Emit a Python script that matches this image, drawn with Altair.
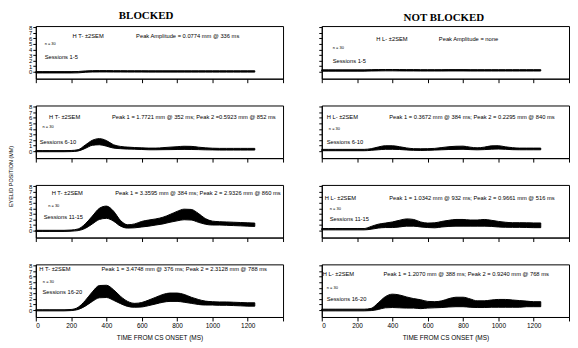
import altair as alt
import pandas as pd

# ---- data ----
T = [0, 40, 80, 120, 160, 200, 240, 280, 320, 360, 400, 440, 480, 520, 560, 600,
     640, 680, 720, 760, 800, 840, 880, 920, 960, 1000, 1040, 1080, 1120, 1160, 1200, 1240]

# BLOCKED (H T-)
B1_MEAN = [-0.10, -0.10, -0.10, -0.10, -0.10, -0.10, -0.08, 0.02, 0.07, 0.08, 0.08, 0.07, 0.07, 0.06, 0.06, 0.06,
           0.05, 0.05, 0.05, 0.05, 0.05, 0.05, 0.05, 0.05, 0.05, 0.05, 0.05, 0.05, 0.05, 0.05, 0.05, 0.05]
B1_HALF = [0.12, 0.12, 0.12, 0.12, 0.12, 0.12, 0.12, 0.12, 0.12, 0.12, 0.12, 0.12, 0.12, 0.12, 0.12, 0.12,
           0.12, 0.12, 0.12, 0.12, 0.12, 0.12, 0.12, 0.12, 0.12, 0.12, 0.12, 0.12, 0.12, 0.12, 0.12, 0.12]
B2_MEAN = [0.0, 0.0, 0.0, 0.0, 0.0, 0.02, 0.15, 0.8, 1.5, 1.7, 1.4, 0.85, 0.65, 0.55, 0.5, 0.45,
           0.4, 0.4, 0.45, 0.5, 0.55, 0.6, 0.58, 0.5, 0.42, 0.38, 0.35, 0.35, 0.35, 0.35, 0.35, 0.35]
B2_HALF = [0.1, 0.1, 0.1, 0.1, 0.1, 0.1, 0.12, 0.3, 0.45, 0.55, 0.5, 0.3, 0.2, 0.18, 0.15, 0.15,
           0.15, 0.15, 0.18, 0.22, 0.25, 0.28, 0.28, 0.22, 0.18, 0.15, 0.15, 0.15, 0.15, 0.15, 0.15, 0.15]
B3_MEAN = [-0.05, -0.05, -0.05, -0.05, -0.05, 0.0, 0.15, 0.8, 1.9, 3.0, 3.3, 2.6, 1.3, 0.75, 0.85, 1.15,
           1.35, 1.55, 1.8, 2.2, 2.6, 2.9, 2.85, 2.3, 1.65, 1.35, 1.3, 1.25, 1.2, 1.15, 1.1, 1.05]
B3_HALF = [0.1, 0.1, 0.1, 0.1, 0.1, 0.1, 0.15, 0.4, 0.7, 1.0, 1.1, 0.9, 0.5, 0.3, 0.35, 0.5,
           0.55, 0.55, 0.6, 0.7, 0.85, 0.95, 0.95, 0.8, 0.5, 0.35, 0.3, 0.3, 0.3, 0.3, 0.3, 0.3]
B4_MEAN = [-0.05, -0.05, -0.05, -0.05, -0.05, 0.0, 0.3, 1.2, 2.4, 3.3, 3.35, 2.7, 1.8, 1.1, 0.85, 0.95,
           1.3, 1.7, 2.1, 2.3, 2.3, 2.1, 1.75, 1.45, 1.25, 1.2, 1.15, 1.15, 1.1, 1.05, 1.0, 1.0]
B4_HALF = [0.1, 0.1, 0.1, 0.1, 0.1, 0.1, 0.2, 0.5, 0.85, 1.1, 1.1, 0.95, 0.65, 0.45, 0.35, 0.4,
           0.5, 0.6, 0.7, 0.75, 0.75, 0.7, 0.55, 0.45, 0.35, 0.3, 0.3, 0.3, 0.3, 0.3, 0.3, 0.3]

# NOT BLOCKED (H L-)
R1_MEAN = [0.22, 0.22, 0.22, 0.22, 0.22, 0.22, 0.22, 0.25, 0.27, 0.28, 0.28, 0.27, 0.26, 0.26, 0.25, 0.25,
           0.25, 0.25, 0.26, 0.26, 0.26, 0.25, 0.25, 0.25, 0.25, 0.25, 0.25, 0.25, 0.25, 0.25, 0.25, 0.25]
R1_HALF = [0.12, 0.12, 0.12, 0.12, 0.12, 0.12, 0.12, 0.12, 0.12, 0.12, 0.12, 0.12, 0.12, 0.12, 0.12, 0.12,
           0.12, 0.12, 0.12, 0.12, 0.12, 0.12, 0.12, 0.12, 0.12, 0.12, 0.12, 0.12, 0.12, 0.12, 0.12, 0.12]
R2_MEAN = [0.2, 0.2, 0.2, 0.2, 0.2, 0.2, 0.2, 0.3, 0.5, 0.65, 0.65, 0.55, 0.4, 0.3, 0.28, 0.3,
           0.35, 0.45, 0.55, 0.6, 0.62, 0.5, 0.42, 0.5, 0.65, 0.68, 0.55, 0.45, 0.4, 0.4, 0.4, 0.4]
R2_HALF = [0.12, 0.12, 0.12, 0.12, 0.12, 0.12, 0.12, 0.15, 0.25, 0.32, 0.32, 0.25, 0.18, 0.15, 0.15, 0.15,
           0.15, 0.2, 0.25, 0.28, 0.28, 0.22, 0.18, 0.22, 0.3, 0.3, 0.22, 0.18, 0.15, 0.15, 0.15, 0.15]
R3_MEAN = [0.25, 0.25, 0.25, 0.25, 0.25, 0.25, 0.25, 0.5, 0.8, 0.95, 1.05, 1.25, 1.45, 1.4, 1.1, 0.95,
           0.95, 1.15, 1.3, 1.4, 1.4, 1.35, 1.35, 1.4, 1.3, 1.15, 1.05, 1.0, 1.0, 0.98, 0.95, 0.95]
R3_HALF = [0.12, 0.12, 0.12, 0.12, 0.12, 0.12, 0.12, 0.25, 0.35, 0.4, 0.5, 0.6, 0.65, 0.6, 0.45, 0.4,
           0.45, 0.5, 0.55, 0.6, 0.6, 0.55, 0.55, 0.6, 0.55, 0.5, 0.45, 0.42, 0.42, 0.42, 0.42, 0.42]
R4_MEAN = [0.0, 0.0, 0.0, 0.0, 0.0, 0.0, 0.0, 0.1, 0.7, 1.4, 1.65, 1.55, 1.35, 1.2, 1.05, 0.95,
           0.95, 1.05, 1.3, 1.45, 1.45, 1.25, 1.05, 1.05, 1.15, 1.2, 1.2, 1.15, 1.1, 1.1, 1.05, 1.05]
R4_HALF = [0.15, 0.15, 0.15, 0.15, 0.15, 0.15, 0.15, 0.2, 0.6, 1.0, 1.2, 1.15, 1.0, 0.85, 0.8, 0.6,
           0.55, 0.6, 0.75, 0.85, 0.85, 0.75, 0.6, 0.6, 0.65, 0.7, 0.7, 0.65, 0.6, 0.5, 0.45, 0.45]

COL_TITLES = ["BLOCKED", "NOT BLOCKED"]
GROUP_LABELS = ["H T-  \u00b12SEM", "H L-  \u00b12SEM"]
SESSIONS = ["Sessions 1-5", "Sessions 6-10", "Sessions 11-15", "Sessions 16-20"]
N_LABEL = "n = 30"
PEAK_B = [
    "Peak Amplitude = 0.0774 mm @ 336 ms",
    "Peak 1 = 1.7721 mm @ 352 ms;  Peak 2 =0.5923 mm @ 852 ms",
    "Peak 1 = 3.3595 mm @ 384 ms;  Peak 2 = 2.9326 mm @ 860 ms",
    "Peak 1 = 3.4748 mm @ 376 ms;  Peak 2 = 2.3128 mm @ 788 ms",
]
PEAK_R = [
    "Peak Amplitude = none",
    "Peak 1 = 0.3672 mm @ 384 ms;  Peak 2 = 0.2295 mm @ 840 ms",
    "Peak 1 = 1.0342 mm @ 932 ms;  Peak 2 = 0.9661 mm @ 516 ms",
    "Peak 1 = 1.2070 mm @ 388 ms;  Peak 2 = 0.9240 mm @ 768 ms",
]
X_TICKS = [0, 200, 400, 600, 800, 1000, 1200, 1400]
Y_TICKS = [0, 1, 2, 3, 4, 5, 6, 7, 8]

# annotation anchor positions (ms, mm) for: group label, peak text, n, sessions
POS_B = [
    [(208, 6.4), (568, 6.4), (50, 5.0), (50, 2.7)],
    [(75, 6.1), (431, 6.1), (38, 4.3), (22, 1.7)],
    [(90, 6.7), (450, 6.7), (70, 4.5), (45, 2.5)],
    [(20, 7.3), (372, 7.3), (40, 5.0), (38, 3.2)],
]
POS_R = [
    [(309, 5.9), (663, 5.9), (62, 4.2), (62, 1.9)],
    [(28, 6.2), (382, 6.2), (40, 3.9), (28, 1.7)],
    [(17, 5.9), (382, 5.9), (45, 3.8), (45, 2.0)],
    [(6, 6.4), (349, 6.4), (28, 3.9), (28, 2.0)],
]

FONT = "Liberation Sans"
XS = alt.Scale(domain=[0, 1400], nice=False, zero=False)
YS = alt.Scale(domain=[-1.25, 8.2], nice=False, zero=False)


def panel(mean, half, texts, pos, left, bottom, ytitle=False):
    df = pd.DataFrame({"t": T,
                       "lo": [m - h for m, h in zip(mean, half)],
                       "hi": [m + h for m, h in zip(mean, half)]})
    xax = alt.Axis(values=X_TICKS, labels=bottom, grid=False, tickSize=4,
                   labelFontSize=6.5, labelPadding=2, format="d",
                   labelExpr="datum.value >= 1400 ? '' : datum.label",
                   title="TIME FROM CS ONSET (MS)" if bottom else None,
                   titleFontSize=6.5, titlePadding=5, titleFontWeight="normal")
    yax_kw = dict(values=Y_TICKS, labels=left, grid=False, tickSize=3,
                  labelFontSize=6, labelPadding=1, labelOverlap=False,
                  labelBaseline="middle", format="d")
    if ytitle:
        yax_kw.update(title="EYELID POSITION (MM)", titleFontSize=5.5,
                      titleFontWeight="normal", titleY=71, titleAlign="center",
                      titlePadding=15)
    else:
        yax_kw.update(title=None)
    yax = alt.Axis(**yax_kw)
    band = alt.Chart(df).mark_area(color="black", stroke="black", strokeWidth=1,
                                   interpolate="monotone").encode(
        x=alt.X("t:Q", scale=XS, axis=xax),
        y=alt.Y("lo:Q", scale=YS, axis=yax),
        y2="hi:Q",
    )
    layers = [band]
    sizes = [5.8, 5.8, 4.0, 5.8]
    for (s, (px, py), fs) in zip(texts, pos, sizes):
        tdf = pd.DataFrame({"x": [px], "y": [py], "s": [s]})
        layers.append(
            alt.Chart(tdf).mark_text(align="left", baseline="middle", fontSize=fs,
                                     font=FONT, color="black").encode(
                x=alt.X("x:Q", scale=XS, axis=xax),
                y=alt.Y("y:Q", scale=YS, axis=yax),
                text="s:N")
        )
    return alt.layer(*layers).properties(width=249, height=53)


B = [(B1_MEAN, B1_HALF), (B2_MEAN, B2_HALF), (B3_MEAN, B3_HALF), (B4_MEAN, B4_HALF)]
R = [(R1_MEAN, R1_HALF), (R2_MEAN, R2_HALF), (R3_MEAN, R3_HALF), (R4_MEAN, R4_HALF)]

left_rows = []
right_rows = []
for i in range(4):
    left_rows.append(panel(B[i][0], B[i][1],
                           [GROUP_LABELS[0], PEAK_B[i], N_LABEL, SESSIONS[i]],
                           POS_B[i], left=True, bottom=(i == 3), ytitle=(i == 1)))
    right_rows.append(panel(R[i][0], R[i][1],
                            [GROUP_LABELS[1], PEAK_R[i], N_LABEL, SESSIONS[i]],
                            POS_R[i], left=False, bottom=(i == 3)))

title_kw = dict(font="Liberation Serif", fontSize=11, fontWeight="bold",
                anchor="middle", offset=3, color="black")
left_col = alt.vconcat(*left_rows, spacing=27, bounds="flush",
                       title=alt.TitleParams(COL_TITLES[0], **title_kw))
right_col = alt.vconcat(*right_rows, spacing=27, bounds="flush",
                        title=alt.TitleParams(COL_TITLES[1], **title_kw))

chart = alt.hconcat(left_col, right_col, spacing=34).properties(
    padding={"left": 0, "top": 0, "right": 0, "bottom": 0},
    background="white",
).configure_view(stroke="black", strokeWidth=1).configure_axis(
    domainColor="black", tickColor="black", labelColor="black", titleColor="black",
    labelFont=FONT, titleFont=FONT, domainWidth=1, tickWidth=1,
)

chart.save("out.html", embed_options={"renderer": "svg", "actions": False})
